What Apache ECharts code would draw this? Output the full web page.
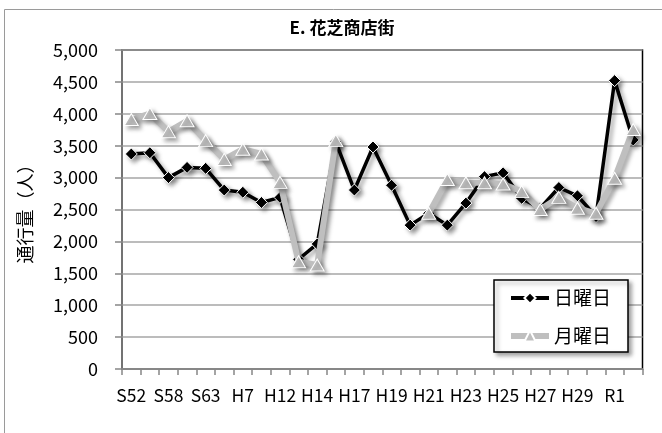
<!DOCTYPE html>
<html>
<head>
<meta charset="utf-8">
<script src="https://cdn.jsdelivr.net/npm/echarts@6/dist/echarts.min.js"></script>
<style>
html,body{margin:0;padding:0;background:#fff;}
#chart{width:662px;height:433px;}
</style>
</head>
<body>
<div id="chart"></div>
<script>
var categories = ['S52','S55','S58','S60','S63','H2','H7','H10','H12','H13','H14','H16','H17','H18','H19','H20','H21','H22','H23','H24','H25','H26','H27','H28','H29','H30','R1','R2'];
var sundayValues = [3370,3390,3000,3160,3145,2805,2770,2610,2690,1720,1960,3560,2805,3480,2880,2255,2440,2255,2600,3015,3075,2675,2520,2845,2715,2390,4520,3590];
var mondayValues = [3910,4005,3720,3890,3580,3285,3445,3370,2925,1680,1630,3580,null,null,null,null,2440,2970,2920,2920,2900,2780,2500,2690,2520,2440,2990,3755];
var seriesNames = ['日曜日','月曜日'];
var titleText = 'E. 花芝商店街';
var yAxisName = '通行量（人）';

var font = '"Noto Sans CJK JP", "Noto Sans", sans-serif';
var chart = echarts.init(document.getElementById('chart'), null, {renderer:'canvas'});
var shadow = {shadowColor:'rgba(0,0,0,0.35)', shadowBlur:4, shadowOffsetX:3, shadowOffsetY:3};
chart.setOption({
  animation:false,
  backgroundColor:'#fff',
  graphic:[{type:'rect', shape:{x:4.5,y:9.5,width:700,height:500}, style:{fill:'none', stroke:'#9a9a9a', lineWidth:1}, z:-1}],
  title:{text:titleText, left:337, top:14, textAlign:'center',
    textStyle:{fontFamily:font, fontSize:17, fontWeight:'bold', color:'#000'}},
  grid:{left:122, right:19.5, top:50, bottom:64, show:true, borderColor:'#000', borderWidth:1.5, backgroundColor:'transparent'},
  legend:{data:[
      {name:seriesNames[0], lineStyle:{width:4, color:'#000', shadowBlur:0, shadowOffsetX:0, shadowOffsetY:0}},
      {name:seriesNames[1], lineStyle:{width:6, color:'#bfbfbf', shadowBlur:0, shadowOffsetX:0, shadowOffsetY:0}}
    ], orient:'vertical', left:494, top:280, itemWidth:38, itemHeight:14, itemGap:18,
    padding:[8,17,6,14], backgroundColor:'#fff', borderColor:'#000', borderWidth:1.5,
    shadowColor:'rgba(0,0,0,0.35)', shadowBlur:4, shadowOffsetX:3, shadowOffsetY:3,
    textStyle:{fontFamily:font, fontSize:19, color:'#000', lineHeight:20}},
  xAxis:{type:'category', data:categories, boundaryGap:true,
    axisLine:{lineStyle:{color:'#868686', width:1.5}},
    axisTick:{show:true, interval:0, length:6, lineStyle:{color:'#868686', width:1.5}},
    axisLabel:{interval:1, margin:18, fontFamily:font, fontSize:17.5, color:'#000'}},
  yAxis:{type:'value', min:0, max:5000, interval:500,
    name:yAxisName, nameLocation:'middle', nameRotate:90, nameGap:88,
    nameTextStyle:{fontFamily:font, fontSize:18, color:'#000'},
    axisLine:{show:true, lineStyle:{color:'#868686', width:1.5}},
    axisTick:{show:true, length:7, lineStyle:{color:'#868686', width:1.5}},
    splitLine:{lineStyle:{color:'#a6a6a6', width:1.5}},
    axisLabel:{margin:24, fontFamily:font, fontSize:18, color:'#000',
      formatter:function(v){return v.toLocaleString('en-US');}}},
  series:[
    {name:seriesNames[0], type:'line', data:sundayValues, z:3,
      symbol:'diamond', symbolSize:12, showSymbol:true,
      lineStyle:Object.assign({color:'#000', width:3.5}, shadow),
      itemStyle:Object.assign({color:'#000', borderColor:'#fff', borderWidth:1}, shadow)},
    {name:seriesNames[1], type:'line', data:mondayValues, z:4, connectNulls:false,
      symbol:'triangle', symbolSize:[14,12], showSymbol:true,
      lineStyle:Object.assign({color:'#bfbfbf', width:6}, shadow),
      itemStyle:Object.assign({color:'#bfbfbf', borderColor:'#fff', borderWidth:1}, shadow)}
  ]
});
</script>
</body>
</html>
